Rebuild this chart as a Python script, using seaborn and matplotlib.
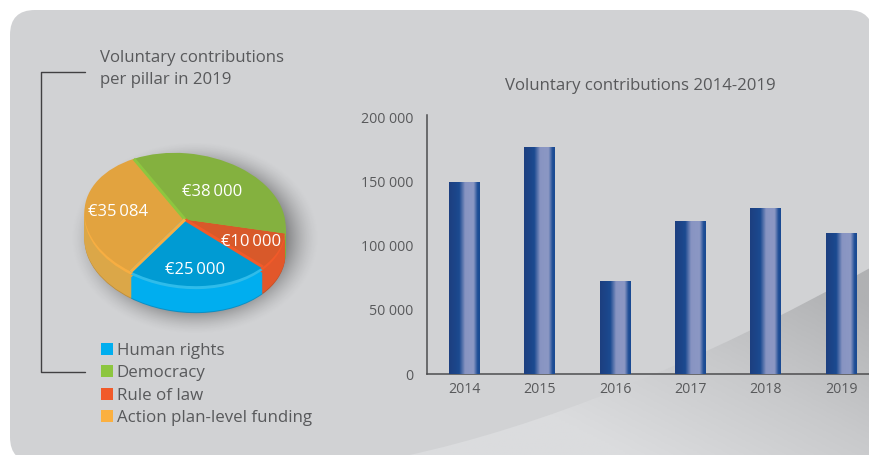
import numpy as np
import pandas as pd
import matplotlib
matplotlib.use("Agg")
import matplotlib.pyplot as plt
import seaborn as sns
from matplotlib.colors import LinearSegmentedColormap
from matplotlib.patches import FancyBboxPatch, PathPatch, Patch
from matplotlib.path import Path
from matplotlib.transforms import Affine2D

years = ["2014", "2015", "2016", "2017", "2018", "2019"]
totals = [150000, 177000, 72700, 119500, 130000, 110000]
y_ticks = [0, 50000, 100000, 150000, 200000]
pillars = ["Human rights", "Democracy", "Rule of law", "Action plan-level funding"]
pillar_values = [25000, 38000, 10000, 35084]
pie_order = [0, 2, 1, 3]

legend_colors = ["#00AEEF", "#8DC63F", "#F15A29", "#FBB040"]
face_colors = ["#009BD3", "#84B13F", "#D8592A", "#E2A33F"]
bevel_colors = ["#2FBCEA", "#8DC63F", "#F15A29", "#F7AE42"]
side_colors = ["#00AEEF", "#7FAE3C", "#E2572A", "#DBA748"]
base_colors = ["#0C8FC4", "#6F9A35", "#C04F26", "#C08E38"]

TEXT = "#58595B"
FONT = "Open Sans"

sns.set_theme(style="white")
plt.rcParams["font.family"] = [FONT, "DejaVu Sans"]

W, H = 870, 455
fig = plt.figure(figsize=(W / 100, H / 100), dpi=100, facecolor="white")


def Y(py):
    return H - py


canvas = fig.add_axes([0, 0, 1, 1], zorder=0)
canvas.patch.set_visible(False)

# rounded panel
panel = FancyBboxPatch((35, Y(462) + 25), 813, 402, boxstyle="round,pad=25,rounding_size=25",
                       fc="#D1D2D4", ec="none", zorder=0)
canvas.add_patch(panel)

# swoosh with gradient
verts = [(405, Y(456)), (610, Y(412)), (870, Y(268)), (890, Y(268)), (890, Y(470)), (405, Y(470)), (405, Y(456))]
codes = [Path.MOVETO, Path.CURVE3, Path.CURVE3, Path.LINETO, Path.LINETO, Path.LINETO, Path.CLOSEPOLY]
clip = PathPatch(Path(verts, codes), fc="none", ec="none", zorder=1)
canvas.add_patch(clip)
gx, gy = np.meshgrid(np.linspace(400, 875, 240), np.linspace(260, 460, 110))
t = np.clip((gx - 600) / 270 * 0.5 + (440 - gy) / 140 * 0.5, 0, 1)
grad_cmap = LinearSegmentedColormap.from_list("sw", ["#DBDCDE", "#C8C9CB", "#B0B1B3"])
im = canvas.imshow(t, cmap=grad_cmap, vmin=0, vmax=1, extent=(400, 875, Y(460), Y(260)),
                   origin="upper", aspect="auto", zorder=1)
im.set_clip_path(clip)

# pie shadow
sx, sy = np.meshgrid(np.linspace(50, 340, 290), np.linspace(130, 350, 220))
d = np.sqrt(((sx - 195) / 108) ** 2 + ((sy - 238) / 84) ** 2)
shadow = np.zeros(d.shape + (4,))
shadow[..., 3] = 0.42 * np.clip((1.16 - d) / 0.34, 0, 1) ** 1.6
canvas.imshow(shadow, extent=(50, 340, Y(350), Y(130)), origin="upper", aspect="auto", zorder=2)

# pie layers
vals = [pillar_values[i] for i in pie_order]
pie_tf = Affine2D().scale(101, 66).rotate_deg(-7)


def layer(colors, offset, z=3.0):
    wedges, _ = canvas.pie(vals, colors=[colors[i] for i in pie_order], startangle=242,
                           counterclock=True, frame=True)
    tr = pie_tf + Affine2D().translate(185, Y(219.5 + offset)) + canvas.transData
    for w in wedges:
        w.set_transform(tr)
        w.set_zorder(z)
        w.set_linewidth(0)
    return wedges


layer(base_colors, 27, z=3.0)
for i, off in enumerate(range(26, 5, -1)):
    layer(side_colors, off, z=3.01 + i * 0.001)
layer(bevel_colors, 3, z=3.2)
top = layer(face_colors, 0, z=3.3)

# bevel strips along the slice edges
tr_top = pie_tf + Affine2D().translate(185, Y(219.5)) + canvas.transData
for w, col_idx, side in zip(top, pie_order, ("theta1", "theta1", "theta2", "theta2")):
    ang = np.deg2rad(getattr(w, side))
    canvas.plot([0, np.cos(ang)], [0, np.sin(ang)], color=bevel_colors[col_idx], lw=2.2,
                transform=tr_top, zorder=3.4, solid_capstyle="butt")

canvas.set_aspect("auto")
canvas.set_xlim(0, W)
canvas.set_ylim(0, H)
canvas.axis("off")

labels_px = [(195, 270), (212, 192.5), (251, 242), (118, 212)]
for v, (px, py) in zip(pillar_values, labels_px):
    canvas.text(px, Y(py), "€" + f"{v:,}".replace(",", "\u2009"), color="white", fontsize=12,
                ha="center", va="center", zorder=4)

# bracket
canvas.plot([85, 41, 41, 85], [Y(72), Y(72), Y(372), Y(372)], color="#414042", lw=1.0, zorder=4)

# titles
canvas.text(100, Y(58), "Voluntary contributions", color=TEXT, fontsize=12.1, ha="left", va="center", zorder=4)
canvas.text(100, Y(80), "per pillar in 2019", color=TEXT, fontsize=12.1, ha="left", va="center", zorder=4)
canvas.text(640, Y(85.5), "Voluntary contributions 2014-2019", color=TEXT, fontsize=12.1,
            ha="center", va="center", zorder=4)

# legend
handles = [Patch(fc=c, ec="none") for c in legend_colors]
fig.legend(handles, pillars, loc="upper left", bbox_to_anchor=(96 / W, 1 - 337.5 / H), frameon=False,
           fontsize=12.2, labelcolor=TEXT, handlelength=0.72, handleheight=0.72, handletextpad=0.19,
           labelspacing=0.385, borderpad=0.3, borderaxespad=0)

# bars
ax = fig.add_axes([427 / W, 1 - 374 / H, (W - 427) / W, 259 / H], zorder=1)
ax.patch.set_visible(False)
df = pd.DataFrame({"year": years, "total": totals})
sns.barplot(data=df, x="year", y="total", ax=ax, width=0.41, color="#1C4A8F", saturation=1, linewidth=0)
bar_cmap = LinearSegmentedColormap.from_list(
    "bar", [(0, "#1D3F80"), (0.33, "#1B4A90"), (0.52, "#8894C2"), (0.8, "#8C98C4"), (0.93, "#1F4E96"), (1, "#1A4A92")])
ramp = np.linspace(0, 1, 64).reshape(1, -1)
for bar in ax.patches:
    g = ax.imshow(ramp, cmap=bar_cmap, aspect="auto", zorder=3,
                  extent=(bar.get_x(), bar.get_x() + bar.get_width(), 0, bar.get_height()))
    g.set_clip_path(bar)
ax.set_xlim(-0.5, (W - 464.5) / 75.3)
ax.set_ylim(0, 202300)
ax.set_yticks(y_ticks, [f"{v:,}".replace(",", " ") for v in y_ticks])
ax.set_xlabel("")
ax.set_ylabel("")
ax.tick_params(axis="both", length=0, labelsize=10.2, labelcolor=TEXT)
ax.tick_params(axis="y", pad=10)
ax.tick_params(axis="x", pad=6)
sns.despine(ax=ax)
for s in ("left", "bottom"):
    ax.spines[s].set_color("#4D4D4F")
    ax.spines[s].set_linewidth(1.1)
ax.grid(False)

fig.savefig("out.png", dpi=100, facecolor="white")
